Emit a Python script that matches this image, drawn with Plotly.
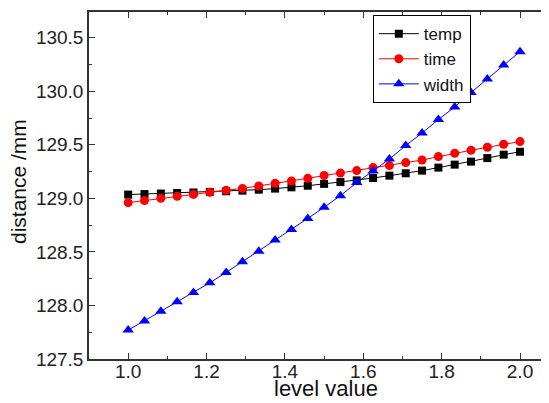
import plotly.graph_objects as go

level = [1 + i / 24 for i in range(25)]
temp = [129.035, 129.040, 129.045, 129.050, 129.055, 129.060, 129.066, 129.072, 129.081,
        129.091, 129.103, 129.118, 129.135, 129.152, 129.168, 129.190, 129.212, 129.234,
        129.259, 129.287, 129.315, 129.343, 129.376, 129.408, 129.435]
time = [128.960, 128.980, 129.000, 129.019, 129.037, 129.056, 129.075, 129.093, 129.115,
        129.140, 129.162, 129.187, 129.213, 129.236, 129.259, 129.287, 129.306, 129.334,
        129.358, 129.390, 129.421, 129.449, 129.477, 129.505, 129.530]
width = [127.770, 127.855, 127.945, 128.035, 128.121, 128.212, 128.308, 128.408, 128.507,
         128.612, 128.710, 128.813, 128.916, 129.025, 129.147, 129.255, 129.367, 129.493,
         129.610, 129.736, 129.853, 129.988, 130.115, 130.246, 130.370]

font = "Arial, Liberation Sans, sans-serif"
fig = go.Figure()
fig.add_trace(go.Scatter(x=level, y=temp, name="temp", mode="lines+markers",
                         line=dict(color="black", width=1),
                         marker=dict(symbol="square", size=8, color="black")))
fig.add_trace(go.Scatter(x=level, y=time, name="time", mode="lines+markers",
                         line=dict(color="red", width=1),
                         marker=dict(symbol="circle", size=9, color="red")))
fig.add_trace(go.Scatter(x=level, y=width, name="width", mode="lines+markers",
                         line=dict(color="blue", width=1),
                         marker=dict(symbol="triangle-up", size=10, color="blue")))

axis_common = dict(showline=True, linecolor="#333", linewidth=1.5, mirror="ticks",
                   ticks="inside", ticklen=6, tickwidth=1.2, tickcolor="#333",
                   showgrid=False, zeroline=False, automargin=False,
                   tickfont=dict(family=font, size=19, color="#222"))
fig.update_xaxes(range=[0.9, 2.074], dtick=0.2, tick0=1.0, tickformat=".1f",
                 ticklabelstandoff=-6,
                 minor=dict(ticks="inside", ticklen=3, dtick=0.1, tickcolor="#333", showgrid=False),
                 **axis_common)
fig.update_yaxes(range=[127.5, 130.74], dtick=0.5, tick0=127.5, tickformat=".1f",
                 minor=dict(ticks="inside", ticklen=3, dtick=0.25, tickcolor="#333", showgrid=False),
                 **axis_common)

fig.update_layout(
    width=541, height=395,
    margin=dict(l=81, r=0, t=4, b=44),
    plot_bgcolor="white", paper_bgcolor="white",
    showlegend=True,
    legend=dict(x=0.617, y=0.991, xanchor="left", yanchor="top",
                bgcolor="white", bordercolor="black", borderwidth=1,
                font=dict(family=font, size=17, color="#111"),
                tracegroupgap=0, itemwidth=40),
    annotations=[
        dict(text="level value", xref="paper", yref="paper", x=0.515, y=0,
             yshift=-44, xanchor="center", yanchor="bottom", showarrow=False,
             font=dict(family=font, size=22, color="#111")),
        dict(text="distance /mm", xref="paper", yref="paper", x=0, y=0.51,
             xshift=-71, xanchor="center", yanchor="middle", textangle=-90, showarrow=False,
             font=dict(family=font, size=21, color="#111")),
    ],
)
fig.write_html("out.html")
